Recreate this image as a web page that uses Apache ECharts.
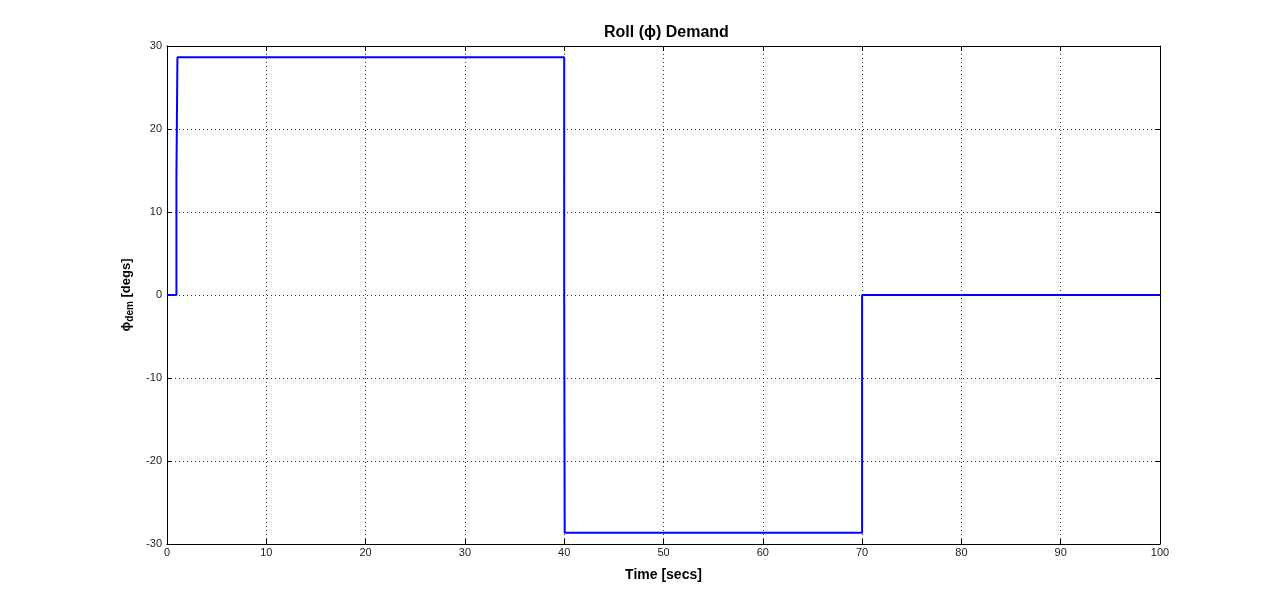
<!DOCTYPE html>
<html><head><meta charset="utf-8">
<script src="https://cdn.jsdelivr.net/npm/echarts@6/dist/echarts.min.js"></script>
<style>html,body{margin:0;padding:0;background:#fff}#c{width:1282px;height:612px}</style>
</head><body><div id="c"></div>
<script>
const timeSecs = [0, 0.95, 0.95, 1.05, 40, 40, 40.05, 70, 70, 100];
const phiDemDegs = [0, 0, 14.3, 28.65, 28.65, 0, -28.65, -28.65, 0, 0];
const xTicks = [0, 10, 20, 30, 40, 50, 60, 70, 80, 90, 100];
const yTicks = [-30, -20, -10, 0, 10, 20, 30];

const chart = echarts.init(document.getElementById('c'));
const font = 'Liberation Sans, Arial, sans-serif';
const axisLine = {show: true, onZero: false, lineStyle: {color: '#000', width: 1}};
const tick = {show: true, inside: true, length: 5, lineStyle: {color: '#000'}};
chart.setOption({
  animation: false,
  title: {text: 'Roll (ϕ) Demand', left: 599, top: 20,
    textStyle: {fontFamily: font, fontSize: 16, fontWeight: 'bold', color: '#000'}},
  grid: {left: 167, right: 122, top: 46, bottom: 68},
  xAxis: [{
    type: 'value', min: 0, max: 100, interval: 10, position: 'bottom',
    axisLine, axisTick: tick,
    axisLabel: {fontFamily: font, fontSize: 11, color: '#222', margin: 3},
    splitLine: {show: true, lineStyle: {color: '#333', type: [1, 3], width: 1}},
    name: 'Time [secs]', nameLocation: 'middle', nameGap: 24,
    nameTextStyle: {fontFamily: font, fontSize: 14, fontWeight: 'bold', color: '#000'}
  }, {
    type: 'value', min: 0, max: 100, interval: 10, position: 'top',
    axisLine, axisTick: tick, axisLabel: {show: false}, splitLine: {show: false}
  }],
  yAxis: [{
    type: 'value', min: -30, max: 30, interval: 10, position: 'left',
    axisLine, axisTick: tick,
    axisLabel: {fontFamily: font, fontSize: 11, color: '#222', margin: 5},
    splitLine: {show: true, lineStyle: {color: '#333', type: [1, 3], width: 1}},
    name: '{p|ϕ}{s|dem}{n| [degs]}', nameLocation: 'middle', nameGap: 30, nameRotate: 90,
    nameTextStyle: {fontFamily: font, fontSize: 13, fontWeight: 'bold', color: '#000',
      rich: {
        p: {fontFamily: font, fontSize: 13, fontWeight: 'bold', color: '#000'},
        s: {fontFamily: font, fontSize: 10, fontWeight: 'bold', color: '#000', verticalAlign: 'bottom', padding: [8, 0, 0, 0]},
        n: {fontFamily: font, fontSize: 13, fontWeight: 'bold', color: '#000'}
      }}
  }, {
    type: 'value', min: -30, max: 30, interval: 10, position: 'right',
    axisLine, axisTick: tick, axisLabel: {show: false}, splitLine: {show: false}
  }],
  series: [{
    type: 'line', xAxisIndex: 0, yAxisIndex: 0, showSymbol: false,
    lineStyle: {color: '#0000ff', width: 2},
    data: timeSecs.map((t, i) => [t, phiDemDegs[i]])
  }]
});
</script></body></html>
